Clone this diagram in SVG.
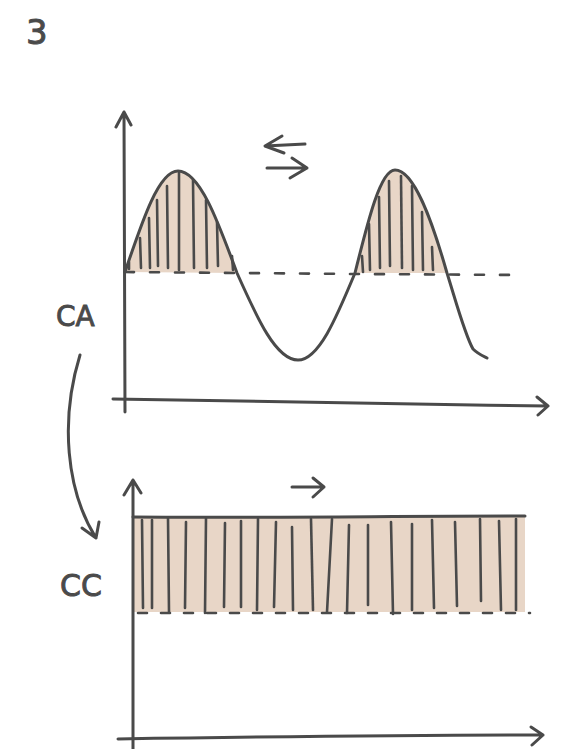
<svg xmlns="http://www.w3.org/2000/svg" width="563" height="749" viewBox="0 0 563 749">
<style>
.ln{fill:none;stroke:#4a4a4a;stroke-width:3;stroke-linecap:round;stroke-linejoin:round}
.h{fill:none;stroke:#4a4a4a;stroke-width:2.6;stroke-linecap:round}
.fill{fill:#e8d6c7;stroke:none}
.txt{font-family:"DejaVu Sans","Liberation Sans",sans-serif;fill:#4a4a4a;stroke:#4a4a4a;stroke-width:0.9}
</style>
<rect width="563" height="749" fill="#ffffff"/>
<text id="label-3" class="txt" x="26" y="44" font-size="34">3</text>

<g id="graph-ac">
  <path class="fill" d="M125,272 C142.7,219.4 158.9,171 178,171 C199.3,171 217.3,219.4 237,273 Z"/>
  <path class="fill" d="M355,273 C368.4,218.9 380.6,170 395,170 C413.7,170 431.6,218.9 447,273 Z"/>
  <g class="h">
    <path d="M129,262 L129,269"/>
    <path d="M140,238 L141,268"/>
    <path d="M149,218 L150,268"/>
    <path d="M157,200 L158,266"/>
    <path d="M167,186 L168,268"/>
    <path d="M179,173 L179,270"/>
    <path d="M193,180 L194,268"/>
    <path d="M206,200 L207,268"/>
    <path d="M217,222 L218,266"/>
    <path d="M232,256 L233,270"/>
    <path d="M362,256 L363,272"/>
    <path d="M369,224 L370,270"/>
    <path d="M379,197 L380,268"/>
    <path d="M389,181 L390,266"/>
    <path d="M401,176 L402,268"/>
    <path d="M412,186 L413,270"/>
    <path d="M422,212 L423,270"/>
    <path d="M432,247 L433,270"/>
  </g>
  <path class="h" d="M125,272 L355,274 L522,275" stroke-dasharray="9 16"/>
  <path class="ln" d="M125,272 C142.7,219.4 158.9,171 178,171 C199.3,171 217.3,219.4 237,273 C257.4,318.7 276,360 298,360 C318.5,360 336,318.7 355,273 C368.4,218.9 380.6,170 395,170 C413.7,170 431.6,218.9 447,273 C457,305 465,335 473,349 C478,354 483,356 487,358"/>
  <path class="ln" d="M125,412 L124,112 M116,127 L124,112 L131,125"/>
  <path class="ln" d="M113,399 C250,401 400,404 548,406 M537,397 L548,406 L538,415"/>
  <path class="ln" d="M305,144 L265,146 M282,136 L265,146 L284,153"/>
  <path class="ln" d="M267,168 L307,168 M292,158 L307,168 L290,178"/>
</g>
<text id="label-ca" class="txt" x="56" y="326" font-size="28">CA</text>

<g id="graph-dc">
  <rect class="fill" x="133" y="517" width="392" height="95"/>
  <g class="h">
    <path d="M142,520 L143,608"/>
    <path d="M152,520 L152,608"/>
    <path d="M168,518 L169,612"/>
    <path d="M186,522 L185,608"/>
    <path d="M206,518 L205,613"/>
    <path d="M225,523 L224,607"/>
    <path d="M241,521 L241,607"/>
    <path d="M258,519 L257,610"/>
    <path d="M276,522 L274,607"/>
    <path d="M292,527 L293,610"/>
    <path d="M311,519 L313,610"/>
    <path d="M332,519 L327,612"/>
    <path d="M349,525 L347,613"/>
    <path d="M368,525 L368,605"/>
    <path d="M391,522 L393,614"/>
    <path d="M412,524 L412,610"/>
    <path d="M432,520 L434,608"/>
    <path d="M455,522 L457,606"/>
    <path d="M480,519 L481,601"/>
    <path d="M499,521 L501,610"/>
    <path d="M516,519 L516,610"/>
  </g>
  <path class="h" d="M138,613 L530,613" stroke-dasharray="9 14"/>
  <path class="ln" d="M133,517 C260,518 400,516 525,516"/>
  <path class="ln" d="M133,749 L133,480 M124,495 L133,480 L141,493"/>
  <path class="ln" d="M118,739 C250,737 400,735 543,735 M531,727 L543,735 L532,745"/>
  <path class="ln" d="M292,487 L324,487 M313,478 L324,487 L313,497"/>
</g>
<text id="label-cc" class="txt" x="60" y="596" font-size="30">CC</text>

<g id="connectors">
  <path class="ln" d="M80,355 C60,420 66,490 96,538 M82,528 L96,538 L99,522"/>
</g>
</svg>
